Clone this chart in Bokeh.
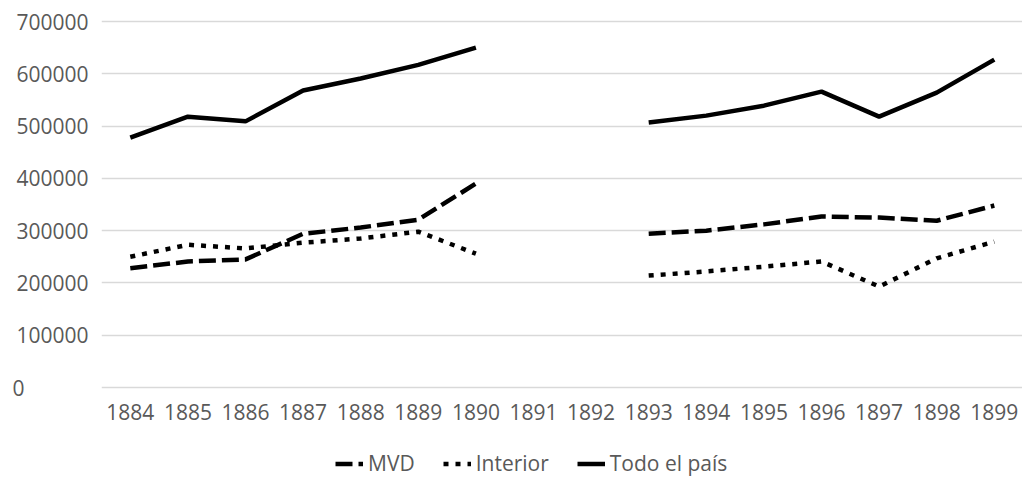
from bokeh.plotting import figure
from bokeh.layouts import column
from bokeh.models import Range1d, FixedTicker, Legend, LegendItem, Label
from bokeh.embed import file_html
from bokeh.resources import INLINE

nan = float("nan")
years = list(range(1884, 1900))
mvd = [228000, 241000, 245000, 294000, 306000, 321000, 390000, nan, nan,
       294000, 300000, 312000, 327000, 325000, 319000, 348000]
interior = [250000, 273000, 266000, 277000, 285000, 298000, 256000, nan, nan,
            214000, 222000, 231000, 241000, 193000, 247000, 279000]
total = [478000, 518000, 509000, 568000, 591000, 617000, 650000, nan, nan,
         507000, 520000, 539000, 566000, 518000, 564000, 627000]
y_ticks = [0, 100000, 200000, 300000, 400000, 500000, 600000, 700000]
y_labels = ["0", "100000", "200000", "300000", "400000", "500000", "600000", "700000"]
series_names = ["MVD", "Interior", "Todo el país"]

FONT = "Open Sans"
GRAY = "#595959"
styles = [dict(line_color="black", line_width=4.5, line_dash="17 6"),
          dict(line_color="black", line_width=4.5, line_dash="5 7"),
          dict(line_color="black", line_width=4.5)]

W, H = 1022, 436
H2 = 40
left, top = 101, 17
frame_h = 374           # 4px extra above 700000 and below 0
bottom = H - top - frame_h
step = 57.6             # px per category
frame_w = W - left
x0 = years[0] - 0.5
pad = 4 * 700000 / 366

p = figure(width=W, height=H, output_backend="svg", toolbar_location=None,
           x_range=Range1d(x0, x0 + frame_w / step),
           y_range=Range1d(-pad, 700000 + pad),
           min_border_left=left, min_border_right=0,
           min_border_top=top, min_border_bottom=bottom)
p.outline_line_color = None
p.background_fill_color = "white"
p.border_fill_color = "white"

p.xgrid.visible = False
p.ygrid.ticker = FixedTicker(ticks=y_ticks)
p.ygrid.grid_line_color = "#d9d9d9"
p.ygrid.grid_line_width = 1.5

ya = p.yaxis[0]
ya.ticker = FixedTicker(ticks=y_ticks)
# "0" is drawn separately, left-aligned with the other tick labels
ya.major_label_overrides = {t: ("" if t == 0 else s) for t, s in zip(y_ticks, y_labels)}
ya.axis_line_color = None
ya.major_tick_line_color = None
ya.minor_tick_line_color = None
ya.major_tick_out = 0
ya.major_tick_in = 0
ya.major_label_standoff = 13
ya.major_label_text_font = FONT
ya.major_label_text_font_size = "21px"
ya.major_label_text_color = GRAY

p.add_layout(Label(x=x0, y=y_ticks[0], x_offset=-89, text=y_labels[0],
                   text_align="left", text_baseline="middle", text_font=FONT,
                   text_font_size="21px", text_color=GRAY), "left")

xa = p.xaxis[0]
xa.ticker = FixedTicker(ticks=years)
xa.axis_line_color = None
xa.major_tick_line_color = None
xa.minor_tick_line_color = None
xa.major_tick_out = 0
xa.major_tick_in = 0
xa.major_label_standoff = 12
xa.major_label_text_font = FONT
xa.major_label_text_font_size = "21px"
xa.major_label_text_color = GRAY

for ys, st in zip([mvd, interior, total], styles):
    p.line(years, ys, **st)

# legend strip below the chart (its lines lie outside its view)
p2 = figure(width=W, height=H2, output_backend="svg", toolbar_location=None,
            x_range=Range1d(0, 1), y_range=Range1d(0, 1),
            min_border_left=0, min_border_right=0,
            min_border_top=0, min_border_bottom=0)
p2.outline_line_color = None
p2.axis.visible = False
p2.grid.visible = False
items = []
for name, ys, st in zip(series_names, [mvd, interior, total], styles):
    r = p2.line(years, ys, **st)
    items.append(LegendItem(label=name, renderers=[r]))
legend = Legend(items=items, orientation="horizontal", location=(234, -1),
                padding=0, margin=0, spacing=28, glyph_width=28, glyph_height=21,
                label_height=21, label_standoff=5, label_text_font=FONT,
                label_text_font_size="21px", label_text_color=GRAY,
                background_fill_alpha=0, border_line_color=None)
p2.add_layout(legend, "center")

layout = column(p, p2, spacing=0)
open("out.html", "w").write(file_html(layout, INLINE))
